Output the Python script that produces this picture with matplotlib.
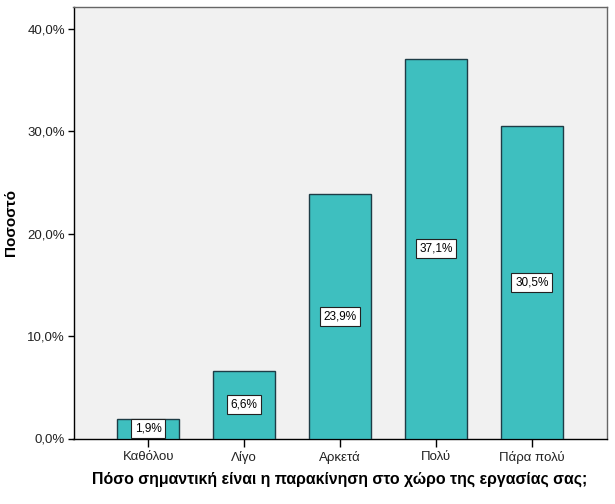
import matplotlib
matplotlib.use("Agg")
import matplotlib.pyplot as plt
from matplotlib.ticker import FuncFormatter

categories = ["Καθόλου", "Λίγο", "Αρκετά", "Πολύ", "Πάρα πολύ"]
values = [1.9, 6.6, 23.9, 37.1, 30.5]
yticks = [0, 10, 20, 30, 40]

plt.rcParams['font.family'] = ['Liberation Sans', 'DejaVu Sans']

fig = plt.figure(figsize=(6.15, 5.04), dpi=100)
ax = fig.add_axes([73.5/615, 1 - 438.5/504, (606.5-73.5)/615, (438.5-7)/504])
ax.set_facecolor('#F1F1F1')

x = list(range(len(categories)))
bars = ax.bar(x, values, width=0.65, color='#3EBFBF', edgecolor='#1E3C46', linewidth=1.0, zorder=3)
for xi, v in zip(x, values):
    ax.text(xi, v / 2, f"{v:.1f}%".replace('.', ','), ha='center', va='center', fontsize=8.5, color='black',
            bbox=dict(boxstyle='square,pad=0.3', facecolor='white', edgecolor='#222222', linewidth=0.8), zorder=4)

ax.set_xlim(-0.78, 4.78)
ax.set_ylim(0, 42.15)
ax.set_xticks(x)
ax.set_xticklabels(categories, fontsize=9.5, color='#222222')
ax.set_yticks(yticks)
ax.yaxis.set_major_formatter(FuncFormatter(lambda v, p: f"{v:.1f}%".replace('.', ',')))
ax.tick_params(axis='y', labelsize=9.5, labelcolor='#222222', length=4, width=1, pad=2)
ax.tick_params(axis='x', length=6, width=1, pad=3)
for s in ax.spines.values():
    s.set_linewidth(1.0)
ax.spines['top'].set_color('#666666')
ax.spines['right'].set_color('#666666')

ax.set_xlabel("Πόσο σημαντική είναι η παρακίνηση στο χώρο της εργασίας σας;", fontsize=11.4, fontweight='bold', va='center')
ax.xaxis.set_label_coords(0.499, -0.095)
ax.set_ylabel("Ποσοστό", fontsize=11, fontweight='bold', va='center')
ax.yaxis.set_label_coords(-0.117, 0.5)

fig.savefig("out.png", dpi=100, facecolor='white')
